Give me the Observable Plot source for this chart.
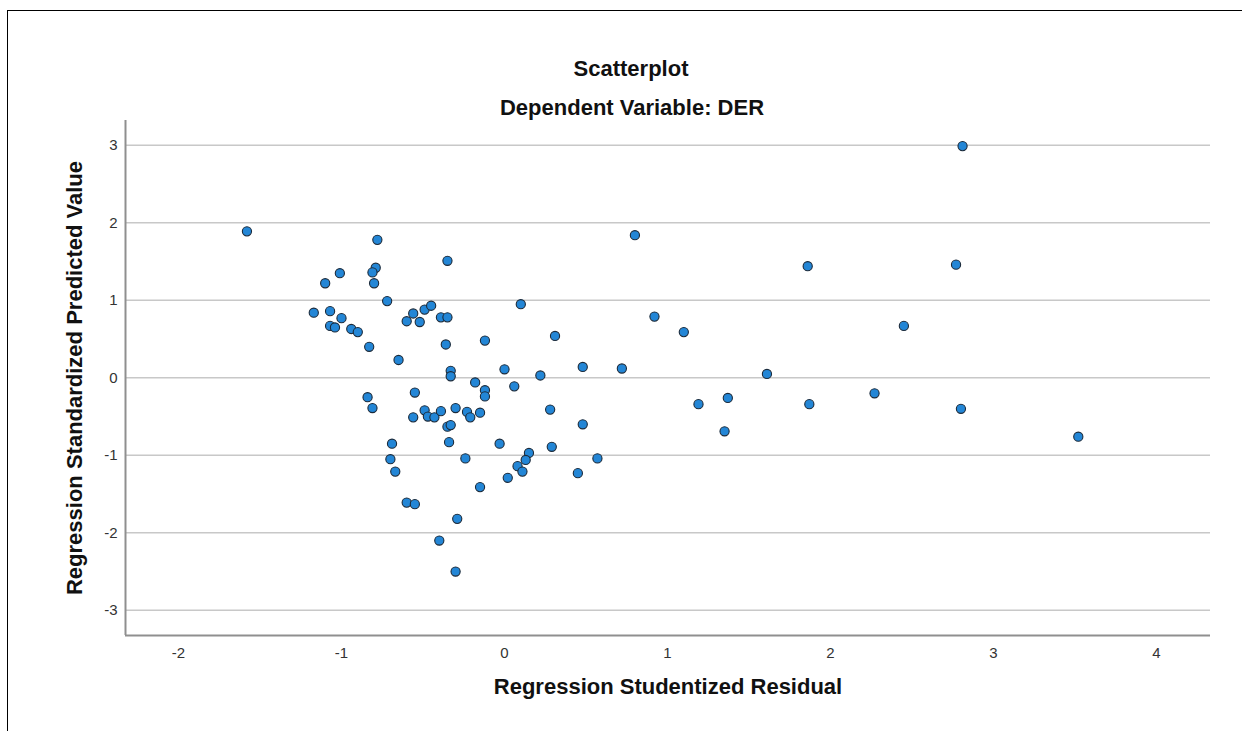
<!DOCTYPE html>
<html>
<head>
<meta charset="utf-8">
<script src="https://cdn.jsdelivr.net/npm/d3@7"></script>
<script src="https://cdn.jsdelivr.net/npm/@observablehq/plot@0.6"></script>
<style>
  html, body { margin: 0; padding: 0; background: #fff; }
  #wrap { position: relative; width: 1242px; height: 731px; overflow: hidden; font-family: "Liberation Sans", Arial, sans-serif; }
  #frame { position: absolute; left: 7px; top: 10px; width: 1300px; height: 800px; border-left: 1px solid #000; border-top: 1px solid #000; pointer-events: none; z-index: 2; }
  #chart { position: absolute; left: 0; top: 0; }
</style>
</head>
<body>
<div id="wrap">
  <div id="chart"></div>
  <div id="frame"></div>
</div>
<script>
const title = "Scatterplot";
const subtitle = "Dependent Variable: DER";
const xLabel = "Regression Studentized Residual";
const yLabel = "Regression Standardized Predicted Value";
const xTicks = [-2, -1, 0, 1, 2, 3, 4];
const yTicks = [-3, -2, -1, 0, 1, 2, 3];
const xDomain = [-2.325, 4.331];
const yDomain = [-3.325, 3.32];

// Regression Studentized Residual
const residual = [
  -1.58, 2.81, 0.80, 1.86, 2.77, 2.45, 1.10, 0.92, 1.61, 1.19, 1.37, 1.35, 1.87, 2.27, 2.80, 3.52,
  0.10, 0.31, -0.12, 0.00, 0.22, 0.48, 0.72, -0.12, -0.12, 0.06, -0.15, 0.28, 0.48, -0.03, 0.29, 0.15, 0.13, 0.08, 0.11, 0.57, 0.45, 0.02,
  -0.78, -0.35, -1.01, -1.10, -0.79, -0.81, -0.80, -0.72, -1.17, -1.07, -1.00, -1.07, -1.04, -0.94, -0.90, -0.83, -0.65, -0.56, -0.60, -0.52, -0.49, -0.45, -0.39, -0.35, -0.36, -0.33, -0.33, -0.18, -0.84, -0.55,
  -0.81, -0.49, -0.47, -0.43, -0.39, -0.56, -0.30, -0.23, -0.21, -0.35, -0.33, -0.34, -0.69, -0.70, -0.67, -0.24, -0.15, -0.60, -0.55, -0.29, -0.40, -0.30
];
// Regression Standardized Predicted Value
const predicted = [
  1.89, 2.99, 1.84, 1.44, 1.46, 0.67, 0.59, 0.79, 0.05, -0.34, -0.26, -0.69, -0.34, -0.20, -0.40, -0.76,
  0.95, 0.54, 0.48, 0.11, 0.03, 0.14, 0.12, -0.16, -0.24, -0.11, -0.45, -0.41, -0.60, -0.85, -0.89, -0.97, -1.06, -1.14, -1.21, -1.04, -1.23, -1.29,
  1.78, 1.51, 1.35, 1.22, 1.42, 1.36, 1.22, 0.99, 0.84, 0.86, 0.77, 0.67, 0.65, 0.63, 0.59, 0.40, 0.23, 0.83, 0.73, 0.72, 0.88, 0.93, 0.78, 0.78, 0.43, 0.09, 0.02, -0.06, -0.25, -0.19,
  -0.39, -0.42, -0.50, -0.51, -0.43, -0.51, -0.39, -0.44, -0.51, -0.63, -0.61, -0.83, -0.85, -1.05, -1.21, -1.04, -1.41, -1.61, -1.63, -1.82, -2.10, -2.50
];

const points = residual.map((r, i) => ({x: r, y: predicted[i]}));
const FONT = "'Liberation Sans', Arial, sans-serif";

const chart = Plot.plot({
  width: 1242,
  height: 731,
  marginLeft: 125,
  marginRight: 32,
  marginTop: 120,
  marginBottom: 96,
  style: {fontFamily: FONT, background: "#fff", overflow: "visible"},
  x: {domain: xDomain},
  y: {domain: yDomain},
  marks: [
    Plot.ruleY(yTicks, {stroke: "#c8c8c8", strokeWidth: 1.6}),
    Plot.ruleY([yDomain[0]], {stroke: "#8f8f8f", strokeWidth: 2}),
    Plot.ruleX([xDomain[0]], {stroke: "#8f8f8f", strokeWidth: 2}),
    Plot.axisX({ticks: xTicks, tickSize: 0, tickPadding: 12, fontSize: 15, tickFormat: d => String(d), label: null, color: "#333"}),
    Plot.axisY({ticks: yTicks, tickSize: 0, tickPadding: 8, fontSize: 15, tickFormat: d => String(d), label: null, color: "#333"}),
    Plot.dot(points, {x: "x", y: "y", r: 4.6, fill: "#2386d6", stroke: "#1b2a3a", strokeWidth: 1.1}),
    Plot.text([xLabel], {frameAnchor: "bottom", dy: 58, text: d => d, fontSize: 22, fontWeight: "bold", fill: "#111"}),
    Plot.text([yLabel], {frameAnchor: "left", textAnchor: "middle", dx: -51, rotate: -90, text: d => d, fontSize: 22, fontWeight: "bold", fill: "#111"}),
    Plot.text([title], {frameAnchor: "top", dx: -37, dy: -60, text: d => d, fontSize: 22, fontWeight: "bold", fill: "#111"}),
    Plot.text([subtitle], {frameAnchor: "top", dx: -36, dy: -21, text: d => d, fontSize: 22, fontWeight: "bold", fill: "#111"})
  ]
});
document.getElementById("chart").appendChild(chart);
</script>
</body>
</html>
